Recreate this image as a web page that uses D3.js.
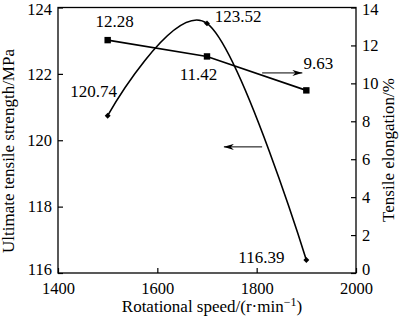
<!DOCTYPE html>
<html><head><meta charset="utf-8">
<script src="https://cdn.jsdelivr.net/npm/d3@7"></script>
<style>
html,body{margin:0;padding:0;background:#fff;}
svg{display:block;}
svg text{font-family:"Liberation Serif","DejaVu Serif",serif;}
</style></head>
<body>
<svg id="c" width="400" height="323"></svg>
<script>
const speeds = [1500, 1700, 1900];
const strength = [120.74, 123.52, 116.39];
const elongation = [12.28, 11.42, 9.63];
const xTicks = [1400, 1600, 1800, 2000];
const yLeftTicks = [116, 118, 120, 122, 124];
const yRightTicks = [0, 2, 4, 6, 8, 10, 12, 14];
const strengthLabels = ["120.74", "123.52", "116.39"];
const elongLabels = ["12.28", "11.42", "9.63"];

const FF = "Liberation Serif, DejaVu Serif, serif";
const svg = d3.select("#c");
const L = 58, R = 356, T = 7.5, B = 273;
const x = d3.scaleLinear().domain([1400, 2000]).range([L, R]);
const yL = d3.scaleLinear().domain([116, 124]).range([B, T]);
const yR = d3.scaleLinear().domain([0, 14]).range([B, T]);
const fs = 17, tfs = 16.5;

// frame
svg.append("rect").attr("x", L).attr("y", T).attr("width", R - L).attr("height", B - T)
  .attr("fill", "none").attr("stroke", "#000").attr("stroke-width", 1.3);

function styleAxis(g) {
  g.attr("font-family", FF);
  g.select(".domain").remove();
  g.selectAll("text").attr("font-size", tfs).attr("font-family", FF).attr("fill", "#000");
  g.selectAll("line").attr("stroke", "#000").attr("stroke-width", 1.2);
}

const ax = svg.append("g").attr("transform", `translate(0,${B})`)
  .call(d3.axisBottom(x).tickValues(xTicks).tickSizeInner(-5).tickSizeOuter(0).tickPadding(9).tickFormat(d3.format("d")));
styleAxis(ax);

const ayl = svg.append("g").attr("transform", `translate(${L},0)`)
  .call(d3.axisLeft(yL).tickValues(yLeftTicks).tickSizeInner(-5).tickSizeOuter(0).tickPadding(6).tickFormat(d3.format("d")));
styleAxis(ayl);
ayl.selectAll(".tick").filter(d => d === 124).select("text").attr("dy", "0.45em");
ayl.selectAll(".tick").filter(d => d === 116).select("text").attr("dy", "0.12em");

const ayr = svg.append("g").attr("transform", `translate(${R},0)`)
  .call(d3.axisRight(yR).tickValues(yRightTicks).tickSizeInner(-5).tickSizeOuter(0).tickPadding(6).tickFormat(d3.format("d")));
styleAxis(ayr);
ayr.selectAll(".tick").filter(d => d === 14).select("text").attr("dy", "0.45em");
ayr.selectAll(".tick").filter(d => d === 0).select("text").attr("dy", "0.12em");

// titles
svg.append("text").attr("x", 212).attr("y", 312).attr("text-anchor", "middle").attr("font-family", FF)
  .attr("font-size", fs).html('Rotational speed/(r·min<tspan dy="-6" font-size="12">−1</tspan><tspan dy="6">)</tspan>');
svg.append("text").attr("transform", `translate(14,${151}) rotate(-90)`).attr("text-anchor", "middle").attr("font-family", FF)
  .attr("font-size", fs).text("Ultimate tensile strength/MPa");
svg.append("text").attr("transform", `translate(394,${150}) rotate(-90)`).attr("text-anchor", "middle").attr("font-family", FF)
  .attr("font-size", fs).text("Tensile elongation/%");

// strength curve
const sData = speeds.map((s, i) => [s, strength[i]]);
svg.append("path").datum(sData)
  .attr("d", d3.line().x(d => x(d[0])).y(d => yL(d[1])).curve(d3.curveCardinal.tension(0)))
  .attr("fill", "none").attr("stroke", "#000").attr("stroke-width", 1.6);
svg.selectAll(".dia").data(sData).enter().append("path")
  .attr("d", d3.symbol(d3.symbolDiamond2, 22)())
  .attr("transform", d => `translate(${x(d[0])},${yL(d[1])})`).attr("fill", "#000");

// elongation line
const eData = speeds.map((s, i) => [s, elongation[i]]);
svg.append("path").datum(eData)
  .attr("d", d3.line().x(d => x(d[0])).y(d => yR(d[1])))
  .attr("fill", "none").attr("stroke", "#000").attr("stroke-width", 1.6);
svg.selectAll(".sq").data(eData).enter().append("rect")
  .attr("x", d => x(d[0]) - 3.2).attr("y", d => yR(d[1]) - 3.2).attr("width", 6.4).attr("height", 6.4).attr("fill", "#000");

// value labels
const sOff = [[-14, -19], [31, -1], [-45, 3]];
sData.forEach((d, i) => {
  svg.append("text").attr("x", x(d[0]) + sOff[i][0]).attr("y", yL(d[1]) + sOff[i][1]).attr("font-family", FF)
    .attr("text-anchor", "middle").attr("font-size", fs).text(strengthLabels[i]);
});
const eOff = [[7, -13], [-8.5, 24], [12, -21]];
eData.forEach((d, i) => {
  svg.append("text").attr("x", x(d[0]) + eOff[i][0]).attr("y", yR(d[1]) + eOff[i][1]).attr("font-family", FF)
    .attr("text-anchor", "middle").attr("font-size", fs).text(elongLabels[i]);
});

// arrows
const defs = svg.append("defs");
defs.append("marker").attr("id", "ah").attr("viewBox", "0 0 10 6").attr("refX", 10).attr("refY", 3)
  .attr("markerWidth", 10).attr("markerHeight", 6).attr("markerUnits", "userSpaceOnUse").attr("orient", "auto")
  .append("path").attr("d", "M0,0 L10,3 L0,6 L3,3 Z").attr("fill", "#000");
svg.append("line").attr("x1", x(1811)).attr("y1", yR(10.55)).attr("x2", x(1892)).attr("y2", yR(10.55))
  .attr("stroke", "#000").attr("stroke-width", 1).attr("marker-end", "url(#ah)");
svg.append("line").attr("x1", x(1811)).attr("y1", yL(119.8)).attr("x2", x(1734)).attr("y2", yL(119.8))
  .attr("stroke", "#000").attr("stroke-width", 1).attr("marker-end", "url(#ah)");
</script>
</body></html>
